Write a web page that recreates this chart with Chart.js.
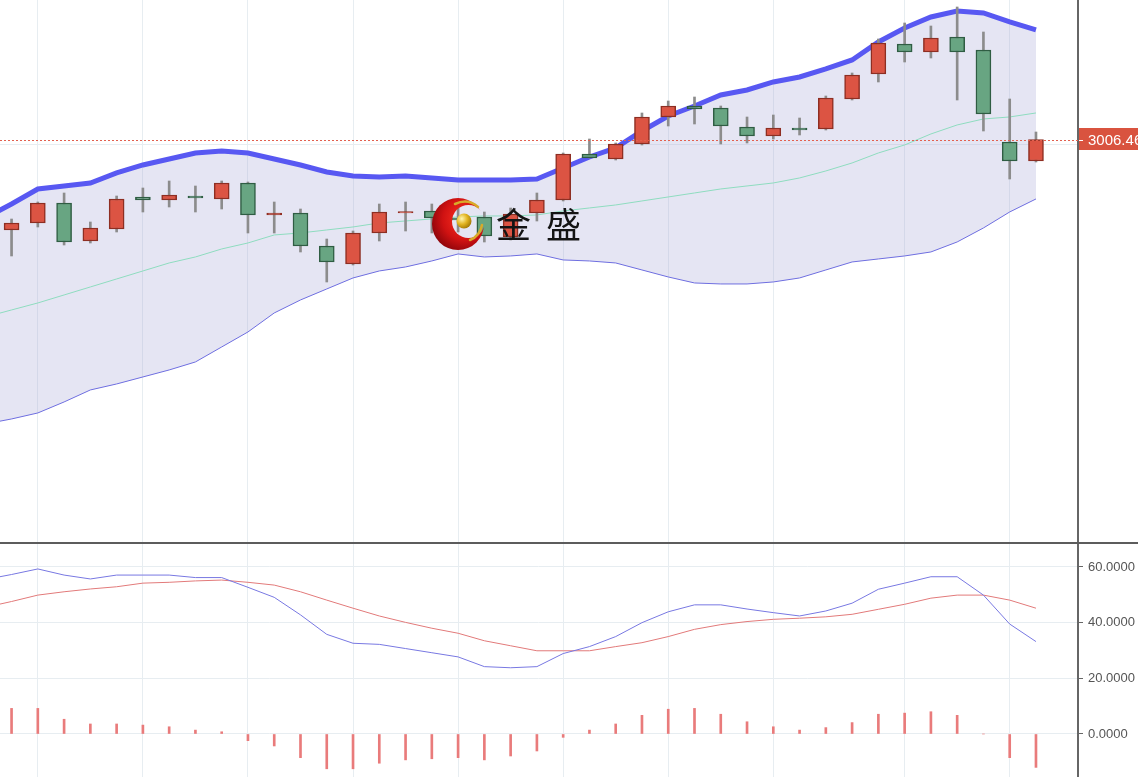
<!DOCTYPE html>
<html>
<head>
<meta charset="utf-8">
<title>K线 + BOLL</title>
<script src="https://cdn.jsdelivr.net/npm/chart.js@4.4.1/dist/chart.umd.min.js"></script>
<style>
    html, body { margin: 0; padding: 0; background: #fff; }
    #wrap { position: relative; width: 1138px; height: 777px; overflow: hidden; }
    #topBox { position: absolute; left: 0; top: 0; width: 1138px; height: 542px; }
    #botBox { position: absolute; left: 0; top: 542px; width: 1138px; height: 235px; }
    .logoTxt { position: absolute; font-family: "Noto Sans CJK SC", sans-serif; font-size: 35px; line-height: 35px; color: #141414; }
    #logo { position: absolute; left: 428px; top: 192px; }
</style>
</head>
<body>
<div id="wrap">
    <div id="topBox"><canvas id="priceChart" width="1138" height="542"></canvas></div>
    <div id="botBox"><canvas id="oscChart" width="1138" height="235"></canvas></div>
    <svg id="logo" width="64" height="64" viewBox="0 0 64 64">
        <defs>
            <radialGradient id="redGrad" cx="0.62" cy="0.4" r="0.75">
                <stop offset="0" stop-color="#ff3322"/>
                <stop offset="0.55" stop-color="#d01212"/>
                <stop offset="1" stop-color="#760008"/>
            </radialGradient>
            <radialGradient id="goldGrad" cx="0.35" cy="0.35" r="0.75">
                <stop offset="0" stop-color="#fff6b0"/>
                <stop offset="0.5" stop-color="#e2b422"/>
                <stop offset="1" stop-color="#9a7000"/>
            </radialGradient>
            <mask id="moonCut">
                <rect width="64" height="64" fill="#fff"/>
                <circle cx="40.5" cy="29.5" r="16.5" fill="#000"/>
            </mask>
        </defs>
        <circle cx="30" cy="32" r="26" fill="url(#redGrad)" mask="url(#moonCut)"/>
        <path d="M27 12 Q40 6 50 15" stroke="#d8aa2a" stroke-width="2.5" fill="none" stroke-linecap="round"/>
        <path d="M42 48 Q52 44 54 33" stroke="#d8aa2a" stroke-width="2.5" fill="none" stroke-linecap="round"/>
        <circle cx="36" cy="29" r="7.5" fill="url(#goldGrad)"/>
    </svg>
    <div class="logoTxt" style="left:496px; top:205px;">金</div>
    <div class="logoTxt" style="left:546px; top:205px;">盛</div>
</div>

<script>
// Daily candles (index = trading day, 0..39)
const opens  = [2897.86, 2906.26, 2930.26, 2884.66, 2899.06, 2937.46, 2933.86, 2938.66, 2935.06, 2954.26,
                2915.86, 2918.26, 2878.66, 2857.06, 2894.26, 2918.26, 2920.66, 2912.26, 2913.46, 2889.46,
                2918.26, 2933.86, 2989.06, 2983.06, 3001.06, 3033.46, 3046.66, 3044.26, 3021.46, 3010.66,
                3020.26, 3019.06, 3055.06, 3085.06, 3121.06, 3111.46, 3129.46, 3113.86, 3003.46, 2980.66];
const highs  = [2911.06, 2931.46, 2942.26, 2907.46, 2938.66, 2948.26, 2956.66, 2950.66, 2956.66, 2955.46,
                2931.46, 2923.06, 2887.06, 2896.66, 2929.06, 2931.46, 2929.06, 2927.86, 2919.46, 2924.26,
                2942.26, 2990.26, 3007.06, 3002.26, 3038.26, 3052.66, 3057.46, 3046.66, 3033.46, 3035.86,
                3032.26, 3058.66, 3086.26, 3127.06, 3146.26, 3142.66, 3165.46, 3135.46, 3055.06, 3015.46];
const lows   = [2866.66, 2901.46, 2879.86, 2882.26, 2895.46, 2919.46, 2925.46, 2919.46, 2923.06, 2894.26,
                2894.26, 2871.46, 2835.46, 2855.86, 2884.66, 2896.66, 2894.26, 2895.46, 2883.46, 2885.86,
                2908.66, 2932.66, 2984.26, 2981.86, 2999.86, 3022.66, 3025.06, 3001.06, 3002.26, 3007.06,
                3011.86, 3017.86, 3053.86, 3075.46, 3099.46, 3104.26, 3053.86, 3016.66, 2959.06, 2979.46];
const closes = [2906.26, 2930.26, 2883.46, 2900.26, 2935.06, 2933.86, 2939.86, 2936.26, 2954.26, 2915.86,
                2918.26, 2878.66, 2859.46, 2894.26, 2919.46, 2920.06, 2912.26, 2909.86, 2890.66, 2917.06,
                2933.86, 2989.06, 2984.26, 3001.06, 3033.46, 3046.66, 3043.06, 3022.66, 3010.66, 3020.26,
                3017.86, 3056.26, 3083.86, 3122.26, 3111.46, 3128.26, 3111.46, 3037.06, 2980.66, 3006.46];

// Indicator series start one day earlier (day -1, just off the left edge)
const bollUpper = [2912.3,
                   2929.1, 2947.1, 2950.7, 2954.3, 2966.3, 2975.9, 2983.1, 2990.3, 2992.7, 2990.3,
                   2983.1, 2975.9, 2967.5, 2962.7, 2961.5, 2962.7, 2960.3, 2957.9, 2957.9, 2957.9,
                   2959.1, 2972.3, 2985.5, 2996.3, 3016.7, 3034.7, 3046.7, 3059.9, 3065.9, 3075.5,
                   3081.5, 3091.1, 3101.9, 3123.5, 3140.3, 3153.5, 3160.7, 3158.3, 3147.5, 3137.9];
const bollMid   = [2793.5,
                   2801.9, 2810.3, 2819.9, 2829.5, 2839.1, 2848.7, 2858.3, 2865.5, 2875.1, 2882.3,
                   2891.9, 2894.3, 2897.9, 2901.5, 2906.3, 2908.7, 2911.1, 2913.5, 2914.7, 2914.7,
                   2915.9, 2920.7, 2924.3, 2927.9, 2932.7, 2937.5, 2942.3, 2947.1, 2950.7, 2954.3,
                   2960.3, 2968.7, 2978.3, 2990.3, 2999.9, 3013.1, 3023.9, 3031.1, 3033.5, 3038.3];
const bollLower = [2665.1,
                   2671.1, 2678.3, 2691.5, 2705.9, 2713.1, 2721.5, 2729.9, 2739.5, 2757.5, 2775.5,
                   2798.3, 2813.9, 2827.1, 2840.3, 2848.7, 2853.5, 2860.7, 2869.1, 2865.5, 2866.7,
                   2869.1, 2861.9, 2860.7, 2858.3, 2849.9, 2841.5, 2834.3, 2833.1, 2833.1, 2835.5,
                   2840.3, 2849.9, 2859.5, 2863.1, 2866.7, 2871.5, 2883.5, 2900.3, 2919.5, 2935.1];

// Lower panel oscillator (also from day -1)
const kLine = [55.5,
               57.3, 59.3, 57.1, 55.7, 57.1, 57.1, 57.1, 56.2, 56.2, 52.7,
               49.1, 42.8, 35.8, 32.6, 32.2, 30.7, 29.2, 27.7, 24.2, 23.8,
               24.2, 28.9, 31.4, 35.0, 40.0, 43.9, 46.4, 46.4, 44.9, 43.6,
               42.4, 44.2, 47.0, 52.0, 54.2, 56.5, 56.5, 49.9, 39.5, 33.2];
const dLine = [45.5,
               47.6, 49.9, 51.1, 52.1, 52.9, 54.2, 54.5, 55.0, 55.3, 54.5,
               53.5, 51.1, 48.1, 45.2, 42.4, 40.1, 38.0, 36.2, 33.5, 31.7,
               29.9, 29.9, 29.9, 31.4, 32.8, 35.0, 37.6, 39.3, 40.4, 41.2,
               41.6, 42.1, 43.0, 44.8, 46.6, 48.8, 49.9, 49.9, 48.1, 45.2];
// histogram, days 0..39
const histValues = [9.2, 9.2, 5.3, 3.6, 3.6, 3.2, 2.6, 1.4, 0.8, -2.4,
                    -4.3, -8.5, -12.5, -12.5, -10.5, -9.3, -8.9, -8.5, -9.3, -7.9,
                    -6.1, -1.2, 1.4, 3.6, 6.7, 8.9, 9.2, 7.1, 4.4, 2.6,
                    1.4, 2.3, 4.1, 7.1, 7.5, 8.0, 6.7, 0, -8.5, -12.0];

// Axis ticks
const gridIdx = [1, 5, 9, 13, 17, 21, 25, 29, 34, 38];
const priceTicks = [3000];
const oscTicks = [0, 20, 40, 60];

const AXIS_W = 60;
const X_MIN = -0.44, X_MAX = 40.6;
const GRID_COLOR = '#e7edf1';
const AXIS_COLOR = '#666666';

Chart.defaults.font.family = '"Liberation Sans", Arial, sans-serif';
Chart.defaults.animation = false;

const idx = closes.map((_, i) => i);
const isUp = i => closes[i] >= opens[i];
const pts = arr => arr.map((v, i) => ({ x: i, y: v }));
const ptsFromPrev = arr => arr.map((v, i) => ({ x: i - 1, y: v }));

function xScale() {
    return {
        type: 'linear',
        min: X_MIN,
        max: X_MAX,
        bounds: 'data',
        offset: false,
        afterBuildTicks: s => { s.ticks = gridIdx.map(v => ({ value: v })); },
        afterFit: s => { s.height = 0; s.paddingLeft = 0; s.paddingRight = 0; },
        grid: { color: GRID_COLOR, drawTicks: false, offset: false },
        border: { display: false },
        ticks: { display: false }
    };
}

function yScale(min, max, tickValues, fmt) {
    return {
        type: 'linear',
        position: 'right',
        min: min,
        max: max,
        bounds: 'data',
        afterBuildTicks: s => { s.ticks = tickValues.map(v => ({ value: v })); },
        afterFit: s => { s.width = AXIS_W; s.paddingTop = 0; s.paddingBottom = 0; },
        grid: { color: GRID_COLOR, tickLength: 5, tickColor: AXIS_COLOR },
        border: { color: AXIS_COLOR, width: 2 },
        ticks: { color: '#555', padding: 5, font: { size: 13 }, callback: fmt }
    };
}

// last price marker on the right axis
const lastPricePlugin = {
    id: 'lastPrice',
    afterDraw(chart) {
        const { ctx, chartArea, scales } = chart;
        const price = closes[closes.length - 1];
        const py = Math.round(scales.y.getPixelForValue(price)) + 0.5;
        ctx.save();
        ctx.strokeStyle = '#e2604f';
        ctx.lineWidth = 1;
        ctx.setLineDash([2, 2]);
        ctx.beginPath();
        ctx.moveTo(chartArea.left, py);
        ctx.lineTo(chartArea.right, py);
        ctx.stroke();
        ctx.setLineDash([]);
        ctx.fillStyle = '#d9533f';
        ctx.fillRect(chartArea.right + 1, py - 12.5, chart.width - chartArea.right, 22);
        ctx.strokeStyle = '#ffffff';
        ctx.beginPath();
        ctx.moveTo(chartArea.right + 1, py);
        ctx.lineTo(chartArea.right + 5, py);
        ctx.stroke();
        ctx.fillStyle = '#ffffff';
        ctx.font = '15px "Liberation Sans", Arial, sans-serif';
        ctx.textBaseline = 'middle';
        ctx.fillText(price.toFixed(2), chartArea.right + 10, py);
        ctx.restore();
    }
};

// dark separator line between panels
const separatorPlugin = {
    id: 'separator',
    afterDraw(chart) {
        const { ctx } = chart;
        ctx.save();
        ctx.fillStyle = '#5c5c5c';
        ctx.fillRect(0, 0, chart.width, 2);
        ctx.restore();
    }
};

new Chart(document.getElementById('priceChart'), {
    type: 'bar',
    data: {
        datasets: [
            {
                type: 'line', label: 'UP', data: ptsFromPrev(bollUpper),
                borderColor: '#5858f2', borderWidth: 5, pointRadius: 0, tension: 0,
                fill: false, order: 5
            },
            {
                type: 'line', label: 'DN', data: ptsFromPrev(bollLower),
                borderColor: '#6e6ee0', borderWidth: 1, pointRadius: 0, tension: 0,
                fill: '-1', backgroundColor: 'rgba(170, 170, 215, 0.3)', order: 6
            },
            {
                type: 'line', label: 'MID', data: ptsFromPrev(bollMid),
                borderColor: '#8edcbf', borderWidth: 1, pointRadius: 0, tension: 0,
                fill: false, order: 4
            },
            {
                label: 'wick', data: idx.map(i => ({ x: i, y: [lows[i], highs[i]] })),
                backgroundColor: '#8c8c8c', barThickness: 2, grouped: false, order: 2
            },
            {
                label: 'body', data: idx.map(i => ({ x: i, y: [opens[i], closes[i]] })),
                backgroundColor: c => isUp(c.dataIndex) ? '#dc5443' : '#68a582',
                borderColor: c => isUp(c.dataIndex) ? '#8e2e22' : '#2f5d43',
                borderWidth: 1.5, borderSkipped: false, barThickness: 15, grouped: false, order: 1
            }
        ]
    },
    options: {
        responsive: false,
        devicePixelRatio: 1,
        layout: { padding: 0, autoPadding: false },
        plugins: { legend: { display: false }, tooltip: { enabled: false } },
        scales: {
            x: xScale(),
            y: yScale(2523.46, 3173.86, priceTicks, v => v.toFixed(4))
        }
    },
    plugins: [lastPricePlugin]
});

new Chart(document.getElementById('oscChart'), {
    type: 'bar',
    data: {
        datasets: [
            {
                type: 'line', label: 'K', data: ptsFromPrev(kLine),
                borderColor: '#7878e2', borderWidth: 1, pointRadius: 0, tension: 0, order: 1
            },
            {
                type: 'line', label: 'D', data: ptsFromPrev(dLine),
                borderColor: '#e27a7a', borderWidth: 1, pointRadius: 0, tension: 0, order: 2
            },
            {
                label: 'hist', data: pts(histValues),
                backgroundColor: '#e97b7b', barThickness: 2, grouped: false, order: 3
            }
        ]
    },
    options: {
        responsive: false,
        devicePixelRatio: 1,
        layout: { padding: 0, autoPadding: false },
        plugins: { legend: { display: false }, tooltip: { enabled: false } },
        scales: {
            x: xScale(),
            y: yScale(-15.45, 68.98, oscTicks, v => v.toFixed(4))
        }
    },
    plugins: [separatorPlugin]
});
</script>
</body>
</html>
